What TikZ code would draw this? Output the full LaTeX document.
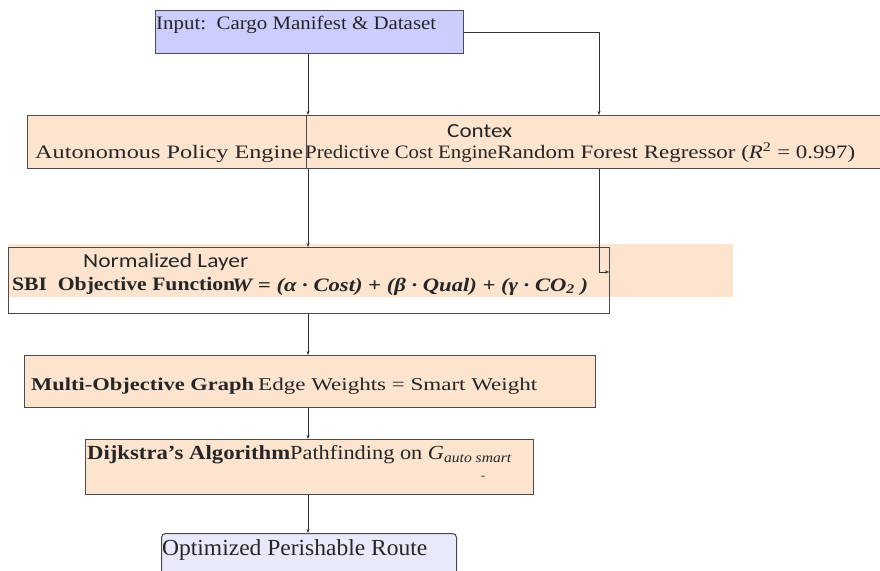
\documentclass[tikz,border=0pt]{standalone}
\usepackage{fontspec}
\setmainfont{Liberation Serif}
\newfontfamily\sansf{Carlito}
\usetikzlibrary{arrows.meta}
\definecolor{peach}{RGB}{252,228,206}
\definecolor{inblue}{RGB}{204,204,255}
\definecolor{outblue}{RGB}{233,233,252}
\definecolor{edge}{RGB}{75,75,75}
\newcommand{\fitt}[2]{\resizebox{#1}{\height}{#2}}
\begin{document}
\begin{tikzpicture}[x=1pt,y=-1pt,
  box/.style={draw=edge,line width=1pt,inner sep=0pt,anchor=north west},
  lbl/.style={inner sep=0pt,anchor=base west,text=black!85},
  arr/.style={draw=black!80,line width=1pt,-{Stealth[length=4pt,width=3pt]}}]
\useasboundingbox (0,0) rectangle (880,570);
\fill[white] (0,0) rectangle (880,570);
% boxes
\node[box,fill=inblue,minimum width=308pt,minimum height=43pt] (input) at (155,10) {};
\node[box,fill=peach,minimum width=860pt,minimum height=53pt] (top) at (27,115) {};
\draw[edge,line width=1pt] (306,115) -- (306,168);
\fill[peach] (8,244) rectangle (733,297);
\node[box,minimum width=601pt,minimum height=66pt] (sbi) at (8,247) {};
\node[box,fill=peach,minimum width=571pt,minimum height=52pt] (multi) at (24,355) {};
\node[box,fill=peach,minimum width=448pt,minimum height=55pt] (dij) at (85,439) {};
\node[box,fill=outblue,rounded corners=4pt,minimum width=295pt,minimum height=60pt] (out) at (161,533) {};
% coordinates
\coordinate (cx) at (308,0);
\coordinate (rx) at (599,0);
\coordinate (sbiin) at (609,272);
% texts
\node[lbl] (tin) at (156,29) {\fontsize{19}{19}\selectfont\fitt{280pt}{Input:\ \ Cargo Manifest \& Dataset}};
\node[lbl] (t1) at (35,158) {\fontsize{19}{19}\selectfont\fitt{268pt}{Autonomous Policy Engine}};
\node[lbl] (t2) at (305,158) {\fontsize{19}{19}\selectfont\fitt{192pt}{Predictive Cost Engine}};
\node[lbl] (t3) at (497,158) {\fontsize{19}{19}\selectfont\fitt{358pt}{Random Forest Regressor (\textit{R}\textsuperscript{2} = 0.997)}};
\node[lbl] (tctx) at (447,137) {\sansf\fontsize{20}{20}\selectfont\fitt{65pt}{Contex}};
\node[lbl] (tnorm) at (83,267) {\sansf\fontsize{20}{20}\selectfont\fitt{165pt}{Normalized Layer}};
\node[lbl] (tsbi) at (12,290) {\fontsize{19}{19}\selectfont\fitt{223pt}{\textbf{SBI\ \ Objective Function}}};
\node[lbl] (tform) at (232,291) {\fontsize{19}{19}\selectfont\fitt{356pt}{\textbf{\textit{W = (α · Cost) + (β · Qual) + (γ · CO\textsubscript{2} )}}}};
\node[lbl] (tm1) at (31,390) {\fontsize{18}{18}\selectfont\fitt{223pt}{\textbf{Multi-Objective Graph}}};
\node[lbl] (tm2) at (258,390) {\fontsize{18}{18}\selectfont\fitt{279pt}{Edge Weights = Smart Weight}};
\node[lbl] (td1) at (87,459) {\fontsize{20}{20}\selectfont\fitt{203pt}{\textbf{Dijkstra’s Algorithm}}};
\node[lbl] (td2) at (290,459) {\fontsize{20}{20}\selectfont\fitt{222pt}{Pathfinding on \textit{G}\textsubscript{\textit{auto smart}}}};
\node[lbl] (tdash) at (481,479) {\fontsize{12}{12}\selectfont -};
\node[lbl] (tout) at (162,555) {\fontsize{23}{23}\selectfont\fitt{265pt}{Optimized Perishable Route}};
% connectors
\draw[arr] (input.south -| cx) -- (top.north -| cx);
\draw[arr] (input.east) -| (top.north -| rx);
\draw[arr] (top.south -| cx) -- (sbi.north -| cx);
\draw[arr] (top.south -| rx) |- (sbiin);
\draw[arr] (sbi.south -| cx) -- (multi.north -| cx);
\draw[arr] (multi.south -| cx) -- (dij.north -| cx);
\draw[arr] (dij.south -| cx) -- (out.north -| cx);
\end{tikzpicture}
\end{document}
